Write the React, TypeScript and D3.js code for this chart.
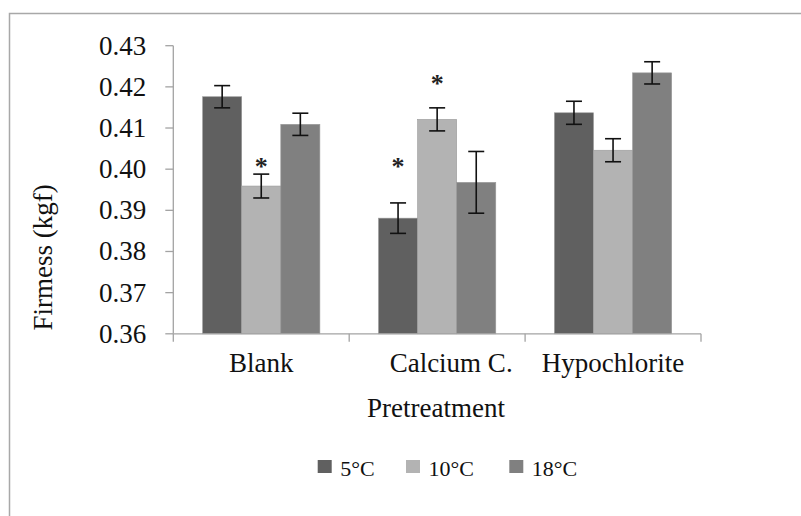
import React from 'react';
import * as d3 from 'd3';

// chart values
const categories = ['Blank', 'Calcium C.', 'Hypochlorite'];
const seriesNames = ['5°C', '10°C', '18°C'];
const seriesColors = ['#606060', '#b3b3b3', '#808080'];
const means = [
  [0.4176, 0.3959, 0.4109],
  [0.3881, 0.4121, 0.3968],
  [0.4137, 0.4046, 0.4234],
];
const errors = [
  [0.0027, 0.0029, 0.0027],
  [0.0037, 0.0028, 0.0075],
  [0.0028, 0.0028, 0.0027],
];
// significance marks: [category, series, height in kgf]
const stars = [
  ['Blank', '10°C', 0.4015],
  ['Calcium C.', '5°C', 0.4015],
  ['Calcium C.', '10°C', 0.4217],
];
const yTicks = [0.36, 0.37, 0.38, 0.39, 0.4, 0.41, 0.42, 0.43];
const yTitle = 'Firmess (kgf)';
const xTitle = 'Pretreatment';

const W = 801;
const H = 516;
const FONT = '"Liberation Serif", "Times New Roman", serif';

export default function App() {
  const left = 173.3;
  const right = 701;
  const top = 45.7;
  const bottom = 333.8;

  const y = d3.scaleLinear().domain([0.36, 0.43]).range([bottom, top]);
  const x = d3.scaleBand().domain(categories).range([left, right]).padding(0);
  const bw = x.bandwidth();
  const xs = d3.scaleBand().domain(seriesNames).range([bw / 6, (bw * 5) / 6]).padding(0);
  const axisColor = '#a3a3a3';
  const cap = 8;

  const boundaries = categories.map(c => x(c) as number).concat([right]);

  return (
    <svg width={W} height={H} style={{ position: 'absolute', left: 0, top: 0, background: '#fff' }} fontFamily={FONT}>
      <rect x={9.5} y={13.5} width={W + 20} height={H + 20} fill="none" stroke="#a8a8a8" strokeWidth={1.5} />

      {/* bars */}
      {categories.map((c, ci) => (
        <g key={c} transform={`translate(${x(c)},0)`}>
          {seriesNames.map((s, si) => (
            <rect key={s} x={xs(s)} y={y(means[ci][si])} width={xs.bandwidth()}
              height={bottom - y(means[ci][si])} fill={seriesColors[si]} stroke="#9a9a9a" strokeWidth={0.6} />
          ))}
        </g>
      ))}

      {/* axes */}
      <line x1={left} x2={left} y1={top} y2={bottom} stroke={axisColor} strokeWidth={1.3} />
      <line x1={left} x2={right} y1={bottom} y2={bottom} stroke={axisColor} strokeWidth={1.3} />
      {yTicks.map(t => (
        <g key={t}>
          <line x1={left - 8} x2={left} y1={y(t)} y2={y(t)} stroke={axisColor} strokeWidth={1.3} />
          <text x={left - 27} y={y(t) + 9} textAnchor="end" fontSize={27} fill="#111">{d3.format('.2f')(t)}</text>
        </g>
      ))}
      {boundaries.map((b, i) => (
        <line key={i} x1={b} x2={b} y1={bottom} y2={bottom + 8} stroke={axisColor} strokeWidth={1.3} />
      ))}
      {categories.map(c => (
        <text key={c} x={(x(c) as number) + bw / 2 + (c === 'Calcium C.' ? 14 : 0)} y={372} textAnchor="middle"
          fontSize={27} fill="#111">{c}</text>
      ))}

      {/* error bars */}
      {categories.map((c, ci) => (
        <g key={c} transform={`translate(${x(c)},0)`}>
          {seriesNames.map((s, si) => {
            const cx = (xs(s) as number) + xs.bandwidth() / 2;
            const hi = y(means[ci][si] + errors[ci][si]);
            const lo = y(means[ci][si] - errors[ci][si]);
            return (
              <g key={s} stroke="#111" strokeWidth={1.6}>
                <line x1={cx} x2={cx} y1={hi} y2={lo} />
                <line x1={cx - cap} x2={cx + cap} y1={hi} y2={hi} />
                <line x1={cx - cap} x2={cx + cap} y1={lo} y2={lo} />
              </g>
            );
          })}
        </g>
      ))}

      {/* significance */}
      {stars.map(([c, s, v], i) => (
        <text key={i} x={(x(c as string) as number) + (xs(s as string) as number) + xs.bandwidth() / 2}
          y={y(v as number) + 12} textAnchor="middle" fontSize={26} fontWeight="bold" fill="#222">*</text>
      ))}

      {/* titles */}
      <text transform={`translate(52,257.5) rotate(-90)`} textAnchor="middle" fontSize={27} fill="#111">{yTitle}</text>
      <text x={436} y={417} textAnchor="middle" fontSize={27} fill="#111">{xTitle}</text>

      {/* legend */}
      {seriesNames.map((s, i) => {
        const lx = [317.7, 406, 509.3][i];
        return (
          <g key={s}>
            <rect x={lx} y={460} width={14} height={13} fill={seriesColors[i]} />
            <text x={lx + 22.5} y={475.5} fontSize={22} fill="#111">{s}</text>
          </g>
        );
      })}
    </svg>
  );
}
